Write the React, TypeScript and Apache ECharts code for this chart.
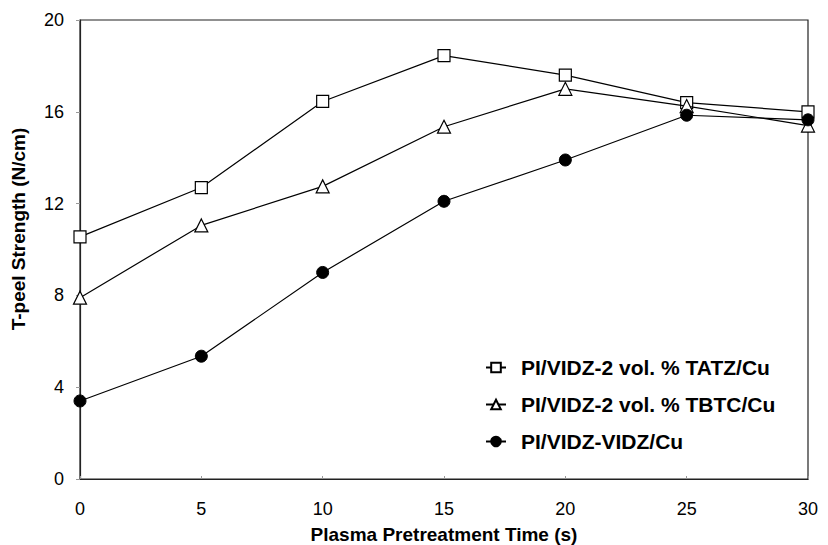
import React, { useEffect, useRef } from "react";
import * as echarts from "echarts";

const times = [0, 5, 10, 15, 20, 25, 30];
const tatz = [10.55, 12.7, 16.45, 18.45, 17.6, 16.4, 16.0];
const tbtc = [7.9, 11.05, 12.75, 15.35, 17.0, 16.25, 15.4];
const vidz = [3.4, 5.35, 9.0, 12.1, 13.9, 15.85, 15.65];
const seriesNames = [
  "PI/VIDZ-2 vol. % TATZ/Cu",
  "PI/VIDZ-2 vol. % TBTC/Cu",
  "PI/VIDZ-VIDZ/Cu",
];
const yTicks = [0, 4, 8, 12, 16, 20];
const xTicks = [0, 5, 10, 15, 20, 25, 30];

export default function App() {
  const ref = useRef<HTMLDivElement>(null);
  useEffect(() => {
    if (!ref.current) return;
    const chart = echarts.init(ref.current, undefined, { renderer: "svg" });
    const font = "Liberation Sans, Arial, sans-serif";
    const mk = (vals: number[]) => vals.map((v, i) => [times[i], v]);
    const base = {
      type: "line" as const,
      clip: false,
      lineStyle: { color: "#000", width: 1.2 },
      emphasis: { disabled: true },
    };
    chart.setOption({
      animation: false,
      backgroundColor: "#fff",
      grid: {
        left: 80,
        right: 20,
        top: 20,
        bottom: 66,
        outerBoundsMode: "none",
        containLabel: false,
        show: true,
        borderColor: "#222",
        borderWidth: 1.2,
      },
      legend: {
        orient: "vertical",
        left: 480,
        top: 352,
        itemGap: 16,
        itemWidth: 20,
        itemHeight: 12,
        textStyle: {
          fontFamily: font,
          fontSize: 21,
          fontWeight: "bold",
          color: "#000",
          padding: [0, 0, 0, 10],
        },
        data: seriesNames,
      },
      xAxis: {
        type: "value",
        min: 0,
        max: 30,
        interval: 5,
        name: "Plasma Pretreatment Time (s)",
        nameLocation: "middle",
        nameGap: 46,
        nameTextStyle: { fontFamily: font, fontSize: 19, fontWeight: "bold", color: "#000" },
        axisLine: { lineStyle: { color: "#222", width: 1.2 } },
        axisTick: { show: true, inside: true, length: 3, lineStyle: { color: "#999" } },
        splitLine: { show: false },
        axisLabel: {
          fontFamily: font,
          fontSize: 18,
          color: "#000",
          margin: 21,
          formatter: (v: number) => (xTicks.includes(v) ? String(v) : ""),
        },
      },
      yAxis: {
        type: "value",
        min: 0,
        max: 20,
        interval: 4,
        name: "T-peel Strength (N/cm)",
        nameLocation: "middle",
        nameGap: 52,
        nameTextStyle: {
          fontFamily: font,
          fontSize: 19,
          fontWeight: "bold",
          color: "#000",
          padding: [0, 0, 0, 41],
        },
        axisLine: { show: true, lineStyle: { color: "#222", width: 1.2 } },
        axisTick: { show: true, length: 4, lineStyle: { color: "#999" } },
        splitLine: { show: false },
        axisLabel: {
          fontFamily: font,
          fontSize: 18,
          color: "#000",
          margin: 16,
          formatter: (v: number) => (yTicks.includes(v) ? String(v) : ""),
        },
      },
      series: [
        {
          ...base,
          name: seriesNames[0],
          data: mk(tatz),
          symbol: "rect",
          symbolSize: 12,
          itemStyle: { color: "#fff", borderColor: "#000", borderWidth: 1.2 },
          z: 3,
        },
        {
          ...base,
          name: seriesNames[1],
          data: mk(tbtc),
          symbol: "triangle",
          symbolSize: 13,
          itemStyle: { color: "#fff", borderColor: "#000", borderWidth: 1.2 },
          z: 4,
        },
        {
          ...base,
          name: seriesNames[2],
          data: mk(vidz),
          symbol: "circle",
          symbolSize: 12,
          itemStyle: { color: "#000", borderColor: "#000", borderWidth: 1 },
          z: 5,
        },
      ],
    });
    return () => chart.dispose();
  }, []);
  return <div ref={ref} style={{ width: 828, height: 545, position: "absolute", left: 0, top: 0 }} />;
}
